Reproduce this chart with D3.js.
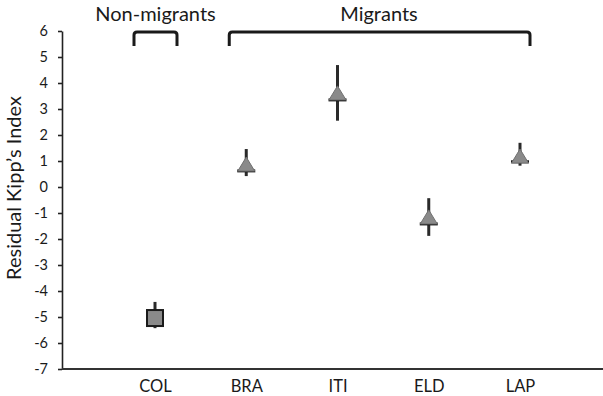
<!DOCTYPE html>
<html>
<head>
<meta charset="utf-8">
<script src="https://cdn.jsdelivr.net/npm/d3@7"></script>
<style>
	body { margin: 0; background: #fff; }
	svg text { font-family: Lato, "Open Sans", sans-serif; fill: #1a1a1a; }
</style>
</head>
<body>
<div id="graphic"></div>
<script>
// data
const categories = ['COL', 'BRA', 'ITI', 'ELD', 'LAP'];
const markerType = ['square', 'triangle', 'triangle', 'triangle', 'triangle'];
const highValues = [-4.42, 1.46, 4.69, -0.43, 1.70];
const lowValues = [-5.43, 0.42, 2.55, -1.88, 0.82];
const closeValues = [null, 0.62, 3.35, -1.42, 0.97];
const meanValues = [-5.04, 0.88, 3.62, -1.15, 1.19];
const yTicks = [6, 5, 4, 3, 2, 1, 0, -1, -2, -3, -4, -5, -6, -7];
const groups = [
	{ label: 'Non-migrants', from: 'COL', to: 'COL' },
	{ label: 'Migrants', from: 'BRA', to: 'LAP' }
];

const width = 603, height = 396;
const margin = { top: 31, right: 0, bottom: 27, left: 62 };

const graphic_data = categories.map((c, i) => ({
	cat: c,
	type: markerType[i],
	high: highValues[i],
	low: lowValues[i],
	close: closeValues[i],
	mean: meanValues[i]
}));

const svg = d3.select('#graphic')
	.append('svg')
	.attr('width', width)
	.attr('height', height);

// scales
const x = d3.scalePoint()
	.domain(categories)
	.range([155, 520]);

const y = d3.scaleLinear()
	.domain([-7, 6])
	.range([height - margin.bottom, margin.top]);

// y axis (plain hyphen for negatives, like the original)
const yAxis = svg.append('g')
	.attr('class', 'y axis')
	.attr('transform', 'translate(' + margin.left + ',0)')
	.call(d3.axisLeft(y).tickValues(yTicks).tickFormat((d) => String(d)).tickSize(4).tickSizeOuter(0).tickPadding(10));
yAxis.select('.domain').attr('stroke', '#222').attr('stroke-width', 1.6);
yAxis.selectAll('.tick line').attr('stroke', '#222').attr('stroke-width', 1.6);
yAxis.selectAll('text').style('font-size', '14.5px').attr('fill', '#1a1a1a');

// x axis
const xAxis = svg.append('g')
	.attr('class', 'x axis')
	.attr('transform', 'translate(0,' + y(-7) + ')')
	.call(d3.axisBottom(x).tickSize(0).tickPadding(11));
xAxis.select('.domain')
	.attr('d', 'M' + margin.left + ',0H' + width)
	.attr('stroke', '#333')
	.attr('stroke-width', 2.2);
xAxis.selectAll('text').style('font-size', '16.5px').attr('fill', '#1a1a1a');

// y axis label
svg.append('text')
	.attr('transform', 'translate(20.5,' + 188 + ') rotate(-90)')
	.attr('text-anchor', 'middle')
	.style('font-size', '20px')
	.text('Residual Kipp\u2019s Index');

// group brackets
const bracketPad = { 'Non-migrants': [21, 22], 'Migrants': [17, 10] };
const brackets = svg.append('g').attr('class', 'brackets');
groups.forEach((g) => {
	const x0 = x(g.from) - bracketPad[g.label][0];
	const x1 = x(g.to) + bracketPad[g.label][1];
	const yTop = y(6) + 1;
	const yBot = yTop + 14;
	brackets.append('path')
		.attr('d', 'M' + x0 + ',' + yBot + 'V' + (yTop + 3) + 'Q' + x0 + ',' + yTop + ' ' + (x0 + 3) + ',' + yTop +
			'H' + (x1 - 3) + 'Q' + x1 + ',' + yTop + ' ' + x1 + ',' + (yTop + 3) + 'V' + yBot)
		.attr('fill', 'none')
		.attr('stroke', '#1a1a1a')
		.attr('stroke-width', 3);
	brackets.append('text')
		.attr('x', g.label === 'Migrants' ? 379 : (x0 + x1) / 2)
		.attr('y', 21)
		.attr('text-anchor', 'middle')
		.style('font-size', '20px')
		.text(g.label);
});

// high-low lines
const marks = svg.append('g').attr('class', 'marks');
marks.selectAll('line.hilo')
	.data(graphic_data)
	.join('line')
	.attr('class', 'hilo')
	.attr('x1', (d) => x(d.cat))
	.attr('x2', (d) => x(d.cat))
	.attr('y1', (d) => y(d.high))
	.attr('y2', (d) => y(d.low))
	.attr('stroke', '#2a2a2a')
	.attr('stroke-width', 3);

// close ticks
marks.selectAll('line.close')
	.data(graphic_data.filter((d) => d.close !== null))
	.join('line')
	.attr('class', 'close')
	.attr('x1', (d) => x(d.cat) - 9)
	.attr('x2', (d) => x(d.cat) + 9)
	.attr('y1', (d) => y(d.close))
	.attr('y2', (d) => y(d.close))
	.attr('stroke', '#1a1a1a')
	.attr('stroke-width', 3);

// triangle markers
const triW = 17, triH = 14;
marks.selectAll('path.tri')
	.data(graphic_data.filter((d) => d.type === 'triangle'))
	.join('path')
	.attr('class', 'tri')
	.attr('d', (d) => {
		const cx = x(d.cat), cy = y(d.mean);
		return 'M' + cx + ',' + (cy - triH / 2) + 'L' + (cx + triW / 2) + ',' + (cy + triH / 2) +
			'L' + (cx - triW / 2) + ',' + (cy + triH / 2) + 'Z';
	})
	.attr('fill', '#8a8a8a')
	.attr('stroke', '#707070')
	.attr('stroke-width', 1);

// square markers
marks.selectAll('rect.sq')
	.data(graphic_data.filter((d) => d.type === 'square'))
	.join('rect')
	.attr('class', 'sq')
	.attr('x', (d) => x(d.cat) - 8)
	.attr('y', (d) => y(d.mean) - 8)
	.attr('width', 16)
	.attr('height', 16)
	.attr('fill', '#8a8a8a')
	.attr('stroke', '#1a1a1a')
	.attr('stroke-width', 2);
</script>
</body>
</html>
